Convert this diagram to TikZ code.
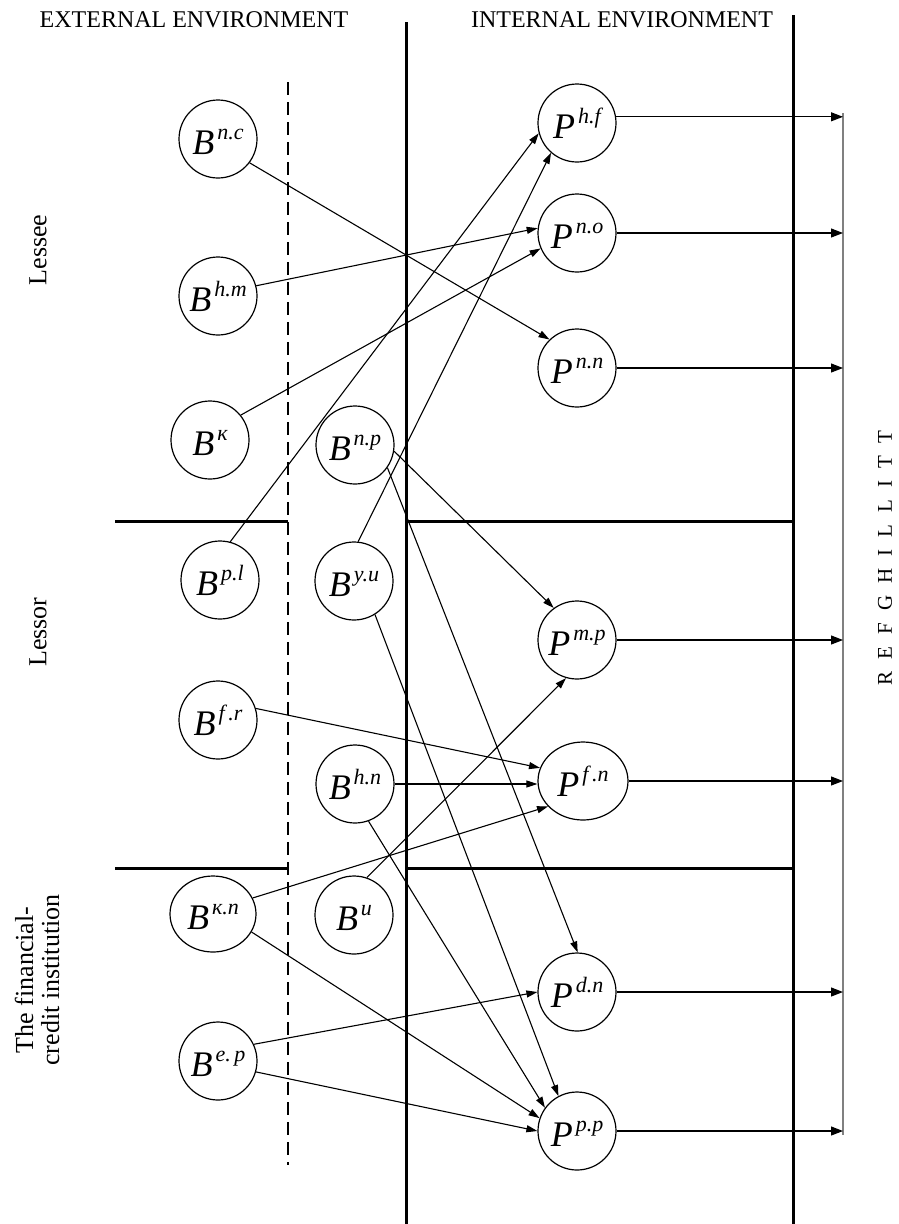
\documentclass[tikz,border=0pt]{standalone}
\usepackage{fontspec}
\setmainfont{Liberation Serif}
\usetikzlibrary{arrows.meta,shapes.geometric}
\newcommand{\lbl}[2]{\fontsize{36}{36}\selectfont\itshape #1\hspace{3pt}\raisebox{15pt}{\fontsize{22}{22}\selectfont #2}}
\newcommand{\gp}{\hspace{12pt}}
\begin{document}
\begin{tikzpicture}[x=1pt,y=-1pt,
  circ/.style={draw, circle, line width=1.2pt, minimum size=78pt, inner sep=0pt, text height=30pt, text depth=0pt},
  ell/.style={draw, ellipse, line width=1.2pt, minimum width=86pt, minimum height=76pt, inner sep=0pt, text height=30pt, text depth=0pt},
  conn/.style={line width=1.1pt, -{Triangle[length=11pt,width=7pt]}},
  outa/.style={line width=1.1pt, -{Triangle[length=12pt,width=9pt]}},
  wall/.style={line width=3pt},
  sidetxt/.style={rotate=90, font=\fontsize{26}{26}\selectfont},
  headtxt/.style={font=\fontsize{24}{24}\selectfont}
]
\useasboundingbox (0,0) rectangle (899,1224);
\fill[white] (0,0) rectangle (899,1224);

% frame lines
\coordinate (w1t) at (406,22);
\coordinate (w1b) at (406,1224);
\coordinate (w2t) at (793,15);
\coordinate (w2b) at (793,1224);
\draw[wall] (w1t) -- (w1b);
\draw[wall] (w2t) -- (w2b);
\coordinate (dt) at (288,82);
\coordinate (db) at (288,1165);
\draw[line width=2.4pt, dash pattern=on 13pt off 7pt] (dt) -- (db);
\coordinate (h1a) at (115,521);
\coordinate (h1b) at (288,521);
\coordinate (h1c) at (406,521);
\coordinate (h1d) at (793,521);
\draw[wall] (h1a) -- (h1b);
\draw[wall] (h1c) -- (h1d);
\coordinate (h2a) at (115,868);
\coordinate (h2b) at (288,868);
\coordinate (h2c) at (406,868);
\coordinate (h2d) at (793,868);
\draw[wall] (h2a) -- (h2b);
\draw[wall] (h2c) -- (h2d);
\coordinate (rtop) at (843,113);
\coordinate (rbot) at (843,1135);
\draw[line width=1.5pt, gray] (rtop) -- (rbot);

% texts
\node[headtxt] (ext) at (194,20) {EXTERNAL ENVIRONMENT};
\node[headtxt] (int) at (622,20) {INTERNAL ENVIRONMENT};
\node[sidetxt] (lessee) at (38,250) {Lessee};
\node[sidetxt] (lessor) at (38,632) {Lessor};
\node[sidetxt, align=center] (fci) at (37,980) {The financial-\\credit institution};
\node[rotate=90, font=\fontsize{21}{21}\selectfont] (ref) at (885,558) {R\gp E\gp F\gp G\gp H\gp I\gp L\gp L\gp I\gp T\gp T};

% B nodes
\node[circ] (bnc) at (218,139) {\lbl{B}{n.c}};
\node[circ] (bhm) at (218,296) {\lbl{B}{h.m}};
\node[circ] (bk) at (210,440) {\lbl{B}{к}};
\node[circ] (bpl) at (220,580) {\lbl{B}{p.l}};
\node[circ] (bfr) at (218,720) {\lbl{B}{f\,.r}};
\node[ell] (bkn) at (213,914) {\lbl{B}{к.n}};
\node[circ] (bep) at (218,1061) {\lbl{B}{e.\,p}};
\node[circ] (bnp) at (355,445) {\lbl{B}{n.p}};
\node[circ] (byu) at (354,581) {\lbl{B}{y.u}};
\node[circ] (bhn) at (355,784) {\lbl{B}{h.n}};
\node[circ] (bu) at (354,915) {\lbl{B}{u}};

% P nodes
\node[circ] (phf) at (577,123) {\lbl{P}{h.f}};
\node[circ] (pno) at (577,233) {\lbl{P}{n.o}};
\node[circ] (pnn) at (577,368) {\lbl{P}{n.n}};
\node[circ] (pmp) at (577,640) {\lbl{P}{m.p}};
\node[ell, minimum width=90pt, minimum height=78pt] (pfn) at (583,781) {\lbl{P}{f\,.n}};
\node[circ] (pdn) at (577,992) {\lbl{P}{d.n}};
\node[circ] (ppp) at (577,1131) {\lbl{P}{p.p}};

% connectors
\draw[conn] (bnc.-37) -- (pnn.134);
\draw[conn] (bhm.15) -- (pno.173);
\draw[conn] (bk.39) -- (pno.-157);
\draw[conn] (bpl.75) -- (phf.195);
\draw[conn] (byu.84) -- (phf.229);
\draw[conn] (bnp.-9) -- (pmp.126);
\draw[conn] (bnp.-35) -- (pdn.89);
\draw[conn] (byu.-58) -- (ppp.118);
\draw[conn] (bfr.17) -- (pfn.163);
\draw[conn] (bhn.east) -- (bhn.east -| pfn.west);
\draw[conn] (bu.71) -- (pmp.254);
\draw[conn] (bkn.22) -- (pfn.216);
\draw[conn] (bkn.-25) -- (ppp.161);
\draw[conn] (bhn.-70) -- (ppp.144);
\draw[conn] (bep.25) -- (pdn.180);
\draw[conn] (bep.-16) -- (ppp.180);

% outputs
\draw[outa] (phf.9) -- (phf.9 -| rtop);
\draw[outa] (pno.east) -- (pno.east -| rtop);
\draw[outa] (pnn.east) -- (pnn.east -| rtop);
\draw[outa] (pmp.east) -- (pmp.east -| rtop);
\draw[outa] (pfn.east) -- (pfn.east -| rtop);
\draw[outa] (pdn.east) -- (pdn.east -| rtop);
\draw[outa] (ppp.east) -- (ppp.east -| rtop);
\end{tikzpicture}
\end{document}
